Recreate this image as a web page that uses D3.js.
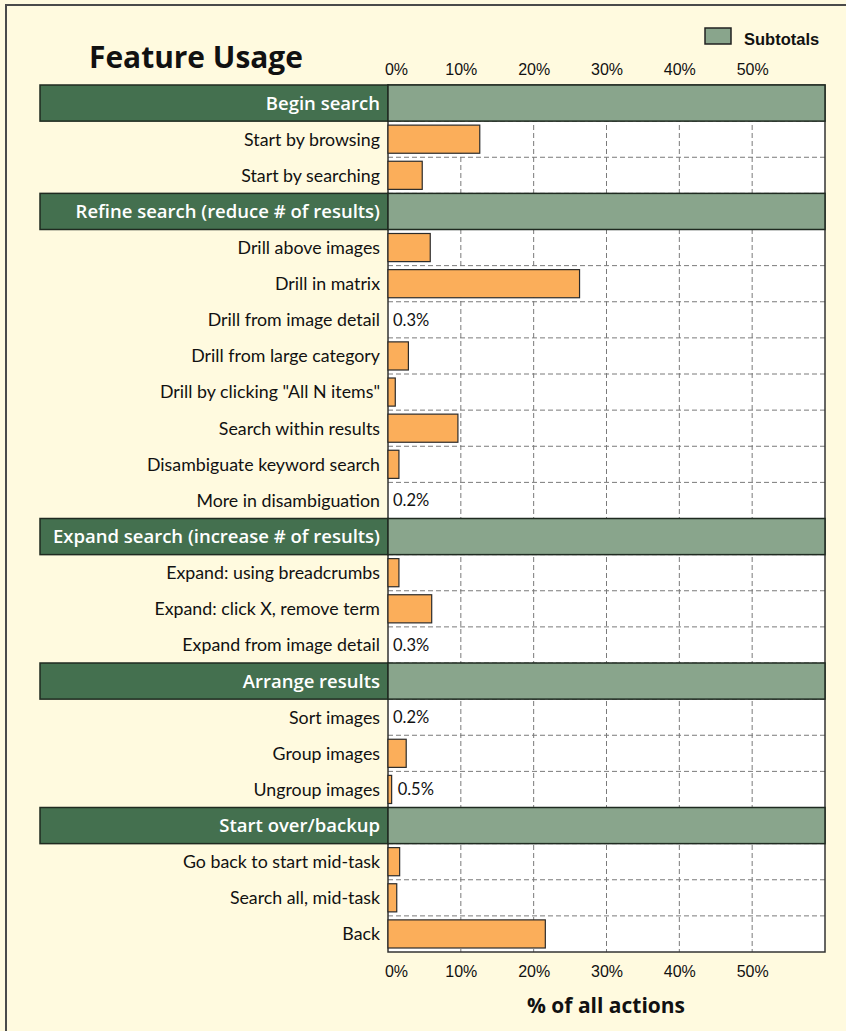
<!DOCTYPE html>
<html>
<head>
<meta charset="utf-8">
<script src="https://cdn.jsdelivr.net/npm/d3@7"></script>
<style>
  body { margin: 0; background: #fffadf; }
  svg { display: block; }
</style>
</head>
<body>
<div id="chart"></div>
<script>
// Section headers (subtotal rows) and features with their section index
const groups = [
    "Begin search",
    "Refine search (reduce # of results)",
    "Expand search (increase # of results)",
    "Arrange results",
    "Start over/backup"
];
const features = [
    "Start by browsing", "Start by searching",
    "Drill above images", "Drill in matrix", "Drill from image detail",
    "Drill from large category", "Drill by clicking \"All N items\"",
    "Search within results", "Disambiguate keyword search", "More in disambiguation",
    "Expand: using breadcrumbs", "Expand: click X, remove term", "Expand from image detail",
    "Sort images", "Group images", "Ungroup images",
    "Go back to start mid-task", "Search all, mid-task", "Back"
];
const featureGroup = [0, 0, 1, 1, 1, 1, 1, 1, 1, 1, 2, 2, 2, 3, 3, 3, 4, 4, 4];
// percent of all actions
const featureValues = [12.6, 4.7, 5.8, 26.3, 0.3, 2.8, 1.0, 9.6, 1.5, 0.2,
                       1.5, 6.0, 0.3, 0.2, 2.5, 0.5, 1.6, 1.2, 21.6];
const tickValues = [0, 10, 20, 30, 40, 50];
const tickLabels = ["0%", "10%", "20%", "30%", "40%", "50%"];

// shrink/grow a text's font size so it spans the wanted width
function fitWidth(sel, target) {
    const node = sel.node();
    const w = node.getComputedTextLength();
    const fs = parseFloat(sel.attr("font-size"));
    if (w > 0) sel.attr("font-size", (fs * target / w).toFixed(2));
}

function init() {
    const width = 846;
    const height = 1031;

    // build the row list: header row then its features
    const rows = [];
    groups.forEach((g, gi) => {
        rows.push({ key: "h" + gi, name: g, header: true });
        features.forEach((f, i) => {
            if (featureGroup[i] === gi) rows.push({ key: "f" + i, name: f, header: false, value: featureValues[i] });
        });
    });

    const xScale = d3.scaleLinear().domain([0, 60]).range([388, 825]);
    const yScale = d3.scaleBand().domain(rows.map(d => d.key)).range([85, 952]).padding(0);
    const bw = yScale.bandwidth();

    const svg = d3.select("#chart").append("svg")
        .attr("width", width)
        .attr("height", height);

    svg.append("rect")
        .attr("x", 6).attr("y", 5)
        .attr("width", width).attr("height", height)
        .attr("fill", "#fffadf")
        .attr("stroke", "#4a4a4a")
        .attr("stroke-width", 2);

    // plot background
    svg.append("rect")
        .attr("x", xScale(0)).attr("y", 85)
        .attr("width", xScale(60) - xScale(0)).attr("height", 952 - 85)
        .attr("fill", "#fff");

    // horizontal dashed grid at row boundaries
    svg.append("g").selectAll("line")
        .data(rows.slice(1))
        .join("line")
        .attr("x1", xScale(0)).attr("x2", xScale(60))
        .attr("y1", d => yScale(d.key)).attr("y2", d => yScale(d.key))
        .attr("stroke", "#7a7a7a")
        .attr("stroke-dasharray", "5,3");

    // vertical dashed grid
    svg.append("g").selectAll("line")
        .data(tickValues.slice(1))
        .join("line")
        .attr("x1", d => xScale(d)).attr("x2", d => xScale(d))
        .attr("y1", 85).attr("y2", 952)
        .attr("stroke", "#7a7a7a")
        .attr("stroke-dasharray", "5,3");

    // plot frame
    svg.append("rect")
        .attr("x", xScale(0)).attr("y", 85)
        .attr("width", xScale(60) - xScale(0)).attr("height", 952 - 85)
        .attr("fill", "none")
        .attr("stroke", "#333")
        .attr("stroke-width", 1.5);

    const headers = rows.filter(d => d.header);
    const items = rows.filter(d => !d.header);

    // header rows
    svg.append("g").selectAll("rect")
        .data(headers)
        .join("rect")
        .attr("x", 40).attr("y", d => yScale(d.key))
        .attr("width", xScale(0) - 40).attr("height", bw)
        .attr("fill", "#44704f")
        .attr("stroke", "#1f2a20")
        .attr("stroke-width", 1.5);

    svg.append("g").selectAll("rect")
        .data(headers)
        .join("rect")
        .attr("x", xScale(0)).attr("y", d => yScale(d.key))
        .attr("width", xScale(60) - xScale(0)).attr("height", bw)
        .attr("fill", "#89a58c")
        .attr("stroke", "#1f2a20")
        .attr("stroke-width", 1.5);

    svg.append("g").selectAll("text")
        .data(headers)
        .join("text")
        .attr("x", 380).attr("y", d => yScale(d.key) + bw / 2)
        .attr("dy", "0.36em")
        .attr("text-anchor", "end")
        .attr("font-family", "'Open Sans', sans-serif")
        .attr("font-weight", 600)
        .attr("font-size", 18.5)
        .attr("fill", "#fff")
        .text(d => d.name);

    // feature bars
    svg.append("g").selectAll("rect")
        .data(items.filter(d => d.value >= 0.5))
        .join("rect")
        .attr("x", xScale(0)).attr("y", d => yScale(d.key) + 4)
        .attr("width", d => xScale(d.value) - xScale(0)).attr("height", bw - 8)
        .attr("fill", "#fbae5a")
        .attr("stroke", "#2b2b2b")
        .attr("stroke-width", 1.2);

    // feature labels
    svg.append("g").selectAll("text")
        .data(items)
        .join("text")
        .attr("x", 380).attr("y", d => yScale(d.key) + bw / 2)
        .attr("dy", "0.36em")
        .attr("text-anchor", "end")
        .attr("font-family", "Lato, sans-serif")
        .attr("font-size", 17.8)
        .attr("fill", "#111")
        .text(d => d.name);

    // value labels for tiny bars
    svg.append("g").selectAll("text")
        .data(items.filter(d => d.value < 1))
        .join("text")
        .attr("x", d => d.value >= 0.5 ? xScale(d.value) + 6 : xScale(0) + 5)
        .attr("y", d => yScale(d.key) + bw / 2)
        .attr("dy", "0.36em")
        .attr("font-family", "Lato, sans-serif")
        .attr("font-size", 16.5)
        .attr("fill", "#111")
        .text(d => d.value + "%");

    // axes (top and bottom), labels only
    const axisTop = d3.axisTop(xScale).tickValues(tickValues)
        .tickFormat((d, i) => tickLabels[i]).tickSize(0).tickPadding(0);
    const axisBottom = d3.axisBottom(xScale).tickValues(tickValues)
        .tickFormat((d, i) => tickLabels[i]).tickSize(0).tickPadding(0);

    [[axisTop, 75], [axisBottom, 977]].forEach(([ax, y]) => {
        const g = svg.append("g").attr("transform", `translate(0,${y})`).call(ax);
        g.select(".domain").remove();
        g.selectAll("text")
            .attr("y", 0).attr("dy", 0)
            .attr("font-family", "'Liberation Sans Narrow', 'Arial Narrow', sans-serif")
            .attr("font-size", 16)
            .attr("fill", "#111")
            .attr("dx", d => d === 0 ? 8 : 0);
    });

    // title
    const title = svg.append("text")
        .attr("x", 89).attr("y", 68)
        .attr("font-family", "'Open Sans', sans-serif")
        .attr("font-weight", "bold")
        .attr("font-size", 26)
        .attr("fill", "#111")
        .text("Feature Usage");
    fitWidth(title, 214);

    // x axis title
    const xTitle = svg.append("text")
        .attr("x", 606).attr("y", 1013)
        .attr("text-anchor", "middle")
        .attr("font-family", "'Open Sans', sans-serif")
        .attr("font-weight", "bold")
        .attr("font-size", 20)
        .attr("fill", "#111")
        .text("% of all actions");
    fitWidth(xTitle, 158);

    // legend
    const legend = svg.append("g").attr("transform", "translate(705,28)");
    legend.append("rect")
        .attr("width", 26).attr("height", 16)
        .attr("fill", "#89a58c")
        .attr("stroke", "#222")
        .attr("stroke-width", 1.5);
    legend.append("text")
        .attr("x", 39).attr("y", 17)
        .attr("font-family", "'Liberation Sans Narrow', 'Arial Narrow', sans-serif")
        .attr("font-weight", "bold")
        .attr("font-size", 16.5)
        .attr("fill", "#111")
        .text("Subtotals");
}

window.onload = init;
</script>
</body>
</html>
